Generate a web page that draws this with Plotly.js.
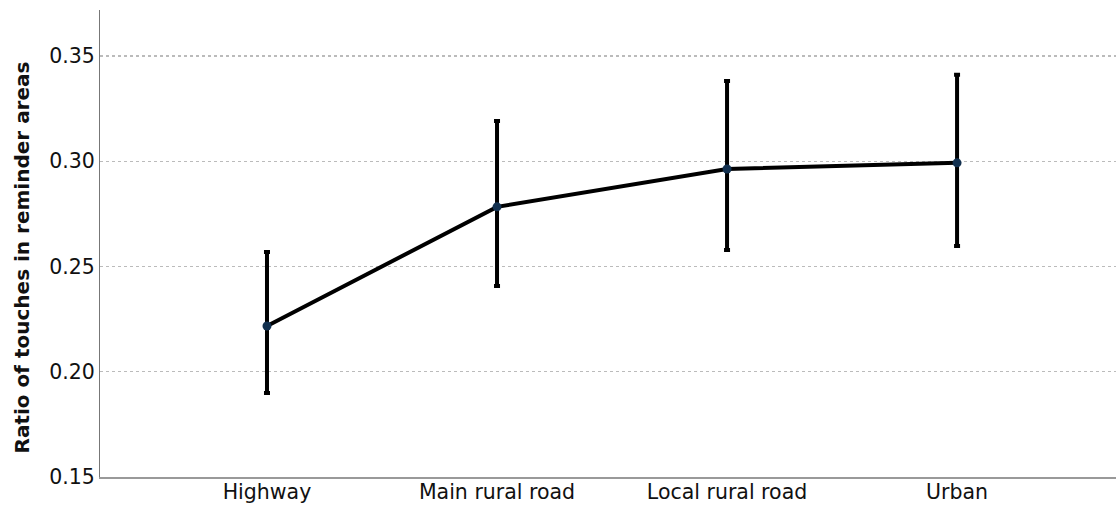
<!DOCTYPE html>
<html><head><meta charset="utf-8">
<script src="https://cdn.plot.ly/plotly-3.0.1.min.js"></script>
<style>html,body{margin:0;padding:0;background:#fff}#chart{width:1116px;height:506px}</style>
</head><body><div id="chart"></div>
<script>
const categories = ["Highway", "Main rural road", "Local rural road", "Urban"];
const means = [0.2217, 0.2783, 0.2963, 0.2992];
const upper = [0.2569, 0.3191, 0.3381, 0.3410];
const lower = [0.1899, 0.2407, 0.2578, 0.2597];
const yTicks = [0.15, 0.20, 0.25, 0.30, 0.35];
const yTitle = "Ratio of touches in reminder areas";

const plus = means.map((m, i) => upper[i] - m);
const minus = means.map((m, i) => m - lower[i]);

const trace = {
  x: categories, y: means, type: "scatter", mode: "lines+markers",
  line: {color: "#000", width: 4},
  marker: {color: "#12304f", size: 9},
  error_y: {type: "data", symmetric: false, array: plus, arrayminus: minus,
            color: "#000", thickness: 4, width: 3},
  hoverinfo: "none"
};

const layout = {
  width: 1116, height: 506,
  margin: {l: 100, r: 0, t: 10, b: 29},
  paper_bgcolor: "#fff", plot_bgcolor: "#fff",
  showlegend: false,
  font: {family: "DejaVu Sans, sans-serif", color: "#111"},
  xaxis: {type: "category", range: [-0.726, 3.691], showgrid: false, zeroline: false,
          showline: true, linecolor: "#999", linewidth: 2, ticks: "",
          tickfont: {size: 20.5}, ticklabelstandoff: -5},
  yaxis: {range: [0.15, 0.3718], tickvals: yTicks, ticktext: yTicks.map(v => v.toFixed(2)),
          showgrid: true, gridcolor: "#bbb", griddash: "dot", gridwidth: 1.2,
          zeroline: false, showline: true, linecolor: "#777", linewidth: 1,
          ticks: "", tickfont: {size: 20.5}},
  annotations: [{
    text: "<b>" + yTitle + "</b>", textangle: -90, showarrow: false,
    xref: "paper", yref: "paper", x: -0.0768, y: 0.47, xanchor: "center", yanchor: "middle",
    font: {size: 20, color: "#111"}
  }]
};
Plotly.newPlot("chart", [trace], layout, {displayModeBar: false, staticPlot: true});
</script></body></html>
